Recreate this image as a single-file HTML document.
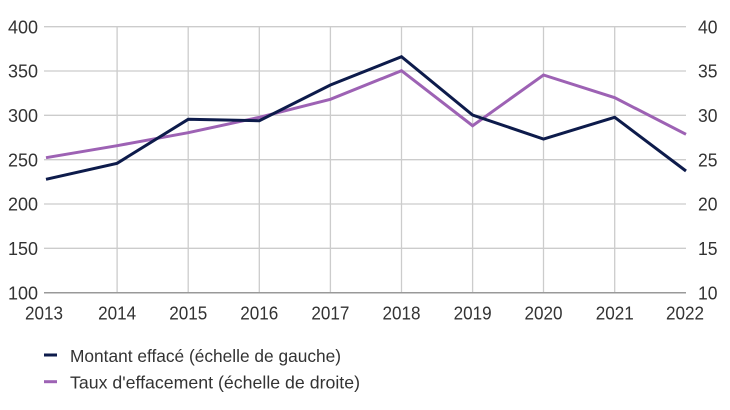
<!DOCTYPE html>
<html><head><meta charset="utf-8"><style>
html,body{margin:0;padding:0;background:#fff;}
svg{display:block;}
text{font-family:"Liberation Sans",sans-serif;fill:#333;}
</style></head><body>
<svg width="730" height="410" viewBox="0 0 730 410" xmlns="http://www.w3.org/2000/svg">
<g stroke="#cccccc" stroke-width="1.3" fill="none">
<line x1="44" y1="26.7" x2="686" y2="26.7"/>
<line x1="44" y1="71" x2="686" y2="71"/>
<line x1="44" y1="115.3" x2="686" y2="115.3"/>
<line x1="44" y1="159.7" x2="686" y2="159.7"/>
<line x1="44" y1="204" x2="686" y2="204"/>
<line x1="44" y1="248.3" x2="686" y2="248.3"/>
<line x1="117.1" y1="26.7" x2="117.1" y2="292.7"/>
<line x1="188.2" y1="26.7" x2="188.2" y2="292.7"/>
<line x1="259.3" y1="26.7" x2="259.3" y2="292.7"/>
<line x1="330.4" y1="26.7" x2="330.4" y2="292.7"/>
<line x1="401.5" y1="26.7" x2="401.5" y2="292.7"/>
<line x1="472.6" y1="26.7" x2="472.6" y2="292.7"/>
<line x1="543.5" y1="26.7" x2="543.5" y2="292.7"/>
<line x1="614.7" y1="26.7" x2="614.7" y2="292.7"/>
</g>
<line x1="44" y1="292.7" x2="686" y2="292.7" stroke="#999" stroke-width="1.5"/>
<g font-size="18.5" text-anchor="end">
<text x="38" y="33.4" textLength="30" lengthAdjust="spacingAndGlyphs">400</text>
<text x="38" y="77.7" textLength="30" lengthAdjust="spacingAndGlyphs">350</text>
<text x="38" y="122" textLength="30" lengthAdjust="spacingAndGlyphs">300</text>
<text x="38" y="166.4" textLength="30" lengthAdjust="spacingAndGlyphs">250</text>
<text x="38" y="210.7" textLength="30" lengthAdjust="spacingAndGlyphs">200</text>
<text x="38" y="255" textLength="30" lengthAdjust="spacingAndGlyphs">150</text>
<text x="38" y="299.4" textLength="30" lengthAdjust="spacingAndGlyphs">100</text>
</g>
<g font-size="18.5" text-anchor="start">
<text x="698" y="33.4" textLength="19.5" lengthAdjust="spacingAndGlyphs">40</text>
<text x="698" y="77.7" textLength="19.5" lengthAdjust="spacingAndGlyphs">35</text>
<text x="698" y="122" textLength="19.5" lengthAdjust="spacingAndGlyphs">30</text>
<text x="698" y="166.4" textLength="19.5" lengthAdjust="spacingAndGlyphs">25</text>
<text x="698" y="210.7" textLength="19.5" lengthAdjust="spacingAndGlyphs">20</text>
<text x="698" y="255" textLength="19.5" lengthAdjust="spacingAndGlyphs">15</text>
<text x="698" y="299.4" textLength="19.5" lengthAdjust="spacingAndGlyphs">10</text>
</g>
<g font-size="18.5" text-anchor="middle">
<text x="44" y="319.3" textLength="38" lengthAdjust="spacingAndGlyphs">2013</text>
<text x="117.1" y="319.3" textLength="38" lengthAdjust="spacingAndGlyphs">2014</text>
<text x="188.2" y="319.3" textLength="38" lengthAdjust="spacingAndGlyphs">2015</text>
<text x="259.3" y="319.3" textLength="38" lengthAdjust="spacingAndGlyphs">2016</text>
<text x="330.4" y="319.3" textLength="38" lengthAdjust="spacingAndGlyphs">2017</text>
<text x="401.5" y="319.3" textLength="38" lengthAdjust="spacingAndGlyphs">2018</text>
<text x="472.6" y="319.3" textLength="38" lengthAdjust="spacingAndGlyphs">2019</text>
<text x="543.5" y="319.3" textLength="38" lengthAdjust="spacingAndGlyphs">2020</text>
<text x="614.7" y="319.3" textLength="38" lengthAdjust="spacingAndGlyphs">2021</text>
<text x="685" y="319.3" textLength="38" lengthAdjust="spacingAndGlyphs">2022</text>
</g>
<polyline fill="none" stroke="#9d62b4" stroke-width="3" stroke-linejoin="miter"
 points="46,157.7 117.1,145.7 188.2,132.7 259.3,117.3 330.4,99.3 401.5,70.7 472.6,125.7 543.5,75 614.7,97.7 686,134.3"/>
<polyline fill="none" stroke="#0d1b4b" stroke-width="3" stroke-linejoin="miter"
 points="46,179.3 117.1,163.3 188.2,119.3 259.3,120.7 330.4,85 401.5,56.7 472.6,115 543.5,139 614.7,117.3 686,171"/>
<line x1="44" y1="355" x2="57" y2="355" stroke="#0d1b4b" stroke-width="3"/>
<line x1="44" y1="381.7" x2="57" y2="381.7" stroke="#9d62b4" stroke-width="3"/>
<text x="70" y="361.8" font-size="17.5" textLength="271" lengthAdjust="spacingAndGlyphs">Montant effacé (échelle de gauche)</text>
<text x="70" y="388.3" font-size="17.5" textLength="290" lengthAdjust="spacingAndGlyphs">Taux d'effacement (échelle de droite)</text>
</svg>
</body></html>
